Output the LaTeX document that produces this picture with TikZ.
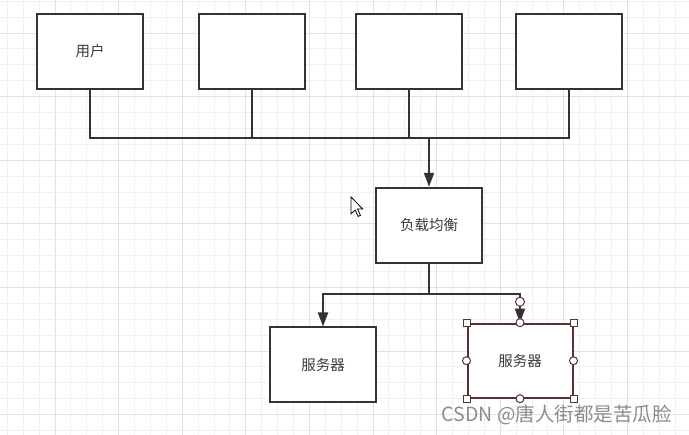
\documentclass[tikz,border=0pt]{standalone}
\usepackage{fontspec}
\newfontfamily\cjk{Noto Sans CJK SC}
\usetikzlibrary{arrows.meta}
\definecolor{ink}{HTML}{333333}
\definecolor{txt}{HTML}{3A3A3A}
\definecolor{minorgrid}{HTML}{F0F0F0}
\definecolor{majorgrid}{HTML}{E2E2E2}
\definecolor{sel}{HTML}{5A3030}
\definecolor{wm}{HTML}{8C8C8C}
\tikzset{
  box/.style={draw=ink, line width=2pt, fill=white, minimum width=106pt, minimum height=75pt, inner sep=0pt, font=\cjk\fontsize{14.5}{16}\selectfont, text=txt},
  conn/.style={draw=ink, line width=2pt},
  arr/.style={conn, -{Triangle[length=14pt,width=10pt]}},
  hsq/.style={draw=sel, fill=white, line width=1pt, minimum size=7pt, inner sep=0pt},
  hci/.style={draw=sel, fill=white, line width=1pt, circle, minimum size=8pt, inner sep=0pt},
}
\begin{document}
\begin{tikzpicture}[x=1pt,y=-1pt]
\useasboundingbox (0,0) rectangle (689,435);
\fill[white] (0,0) rectangle (689,435);
% grid
\foreach \k in {0,...,43}{
  \pgfmathsetmacro\xx{7.3+15.9*\k}
  \pgfmathtruncatemacro\mm{mod(\k,4)}
  \ifnum\mm=3 \draw[majorgrid,line width=1pt] (\xx,0) -- (\xx,435);
  \else \draw[minorgrid,line width=1pt] (\xx,0) -- (\xx,435); \fi
}
\foreach \k in {0,...,27}{
  \pgfmathsetmacro\yy{1.3+15.9*\k}
  \pgfmathtruncatemacro\mm{mod(\k,4)}
  \ifnum\mm=2 \draw[majorgrid,line width=1pt] (0,\yy) -- (689,\yy);
  \else \draw[minorgrid,line width=1pt] (0,\yy) -- (689,\yy); \fi
}
% nodes
\node[box] (u1) at (90,51.5) {用户};
\node[box] (u2) at (251.5,51.5) {};
\node[box] (u3) at (409,51.5) {};
\node[box] (u4) at (569,51.5) {};
\node[box] (lb) at (429,225.3) {负载均衡};
\node[box] (s1) at (323,365) {服务器};
\node[box, draw=sel, minimum width=105pt, minimum height=74pt] (s2) at (520,360.7) {服务器};
\coordinate (bus) at (0,138);
\coordinate (split) at (0,294);
% connectors
\draw[conn] (u1.south) |- (u4.south |- bus) -- (u4.south);
\draw[conn] (u2.south) -- (u2.south |- bus);
\draw[conn] (u3.south) -- (u3.south |- bus);
\draw[arr] (lb.north |- bus) -- (lb.north);
\draw[conn] (lb.south) -- (lb.south |- split);
\draw[arr] (lb.south |- split) -| (s1.north);
\draw[arr] (lb.south |- split) -| (s2.north);
% selection handles
\node[hci, minimum size=9pt] (h0) at ([yshift=21pt]s2.north) {};
\foreach \a in {north west,north east,south west,south east}{\node[hsq] at (s2.\a) {};}
\foreach \a in {north,south,west,east}{\node[hci] at (s2.\a) {};}
% mouse cursor
\begin{scope}[shift={(351,197)}, scale=1.05]
\draw[black, fill=white, line width=0.8pt, line join=miter] (0,0) -- (0,16) -- (4,12.5) -- (6.8,18.5) -- (9,17.5) -- (6.3,11.5) -- (11.2,11.5) -- cycle;
\end{scope}
% watermark
\node[anchor=base east, inner sep=0pt, text=wm, font=\cjk\fontsize{19.5}{21}\selectfont] (wmk) at (672,421.5) {CSDN @唐人街都是苦瓜脸};
\end{tikzpicture}
\end{document}
